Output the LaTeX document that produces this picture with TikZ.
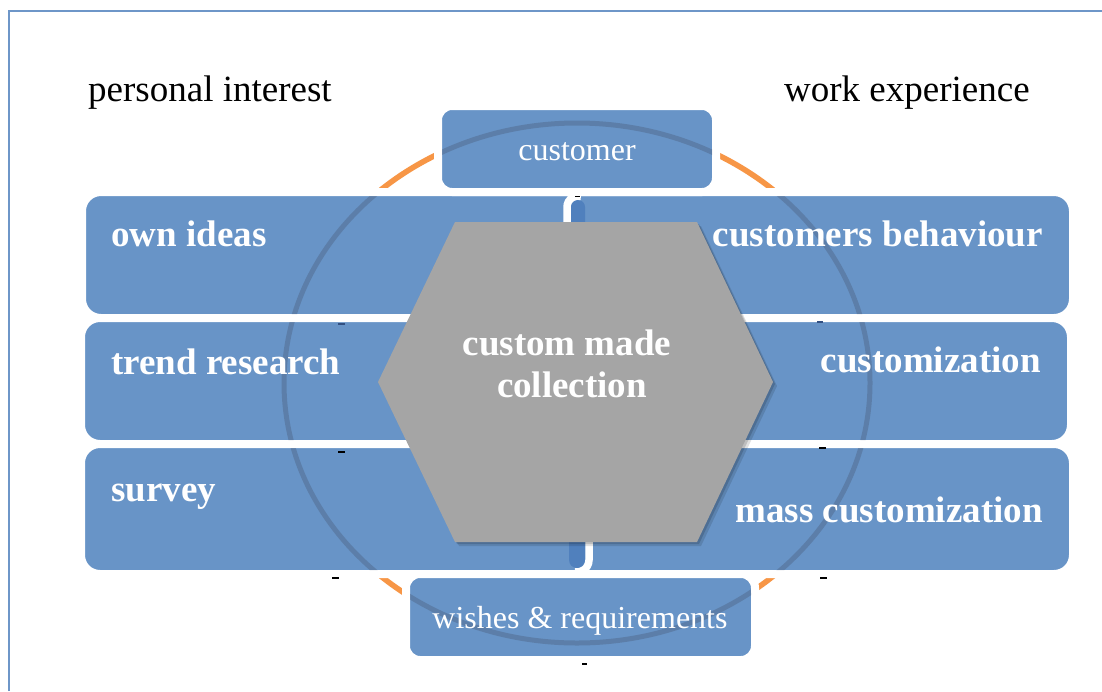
\documentclass[tikz,border=0pt]{standalone}
\usepackage{fontspec}
\setmainfont{Liberation Serif}
\definecolor{boxblue}{RGB}{104,148,199}
\definecolor{pillblue}{RGB}{80,128,189}
\definecolor{ringorange}{RGB}{247,150,70}
\definecolor{ringshadecol}{RGB}{75,95,125}
\definecolor{hexgray}{RGB}{165,165,165}
\definecolor{frameblue}{RGB}{110,150,200}
\definecolor{markblue}{RGB}{50,80,130}
\begin{document}
\begin{tikzpicture}[x=1pt,y=-1pt,
  panel/.style={draw=white, line width=8pt, fill=boxblue, inner sep=0pt, outer sep=0pt},
  rowpanel/.style={panel, rounded corners=19pt},
  tabpanel/.style={panel, rounded corners=14pt},
  ring/.style={draw=ringorange, line width=5.5pt},
  ringshade/.style={draw=ringshadecol, line width=5pt, opacity=0.4},
  headtext/.style={font=\fontsize{37}{42}\selectfont, text=black, inner sep=0pt},
  rowtext/.style={font=\fontsize{37}{42}\selectfont\bfseries, text=white, inner sep=0pt},
  tabtext/.style={font=\fontsize{32}{38}\selectfont, text=white, inner sep=0pt},
  hextext/.style={font=\fontsize{37}{42}\selectfont\bfseries, text=white, inner sep=0pt, align=center},
  tick/.style={line width=1.2pt, black},
  tickblue/.style={line width=1.2pt, markblue}]
\useasboundingbox (0,0) rectangle (1102,691);
\fill[white] (0,0) rectangle (1102,691);

% page frame
\draw[frameblue, line width=2pt] (8.5,691) -- (8.5,10.5) -- (1102,10.5);

% ring behind the panels
\coordinate (ringc) at (577,383);
\draw[ring] (ringc) ellipse [x radius=293, y radius=260];

% panels
\node[rowpanel, minimum width=991pt, minimum height=126pt] (row1) at (577.5,255) {};
\node[rowpanel, minimum width=990pt, minimum height=126pt] (row2) at (576,381) {};
\node[rowpanel, minimum width=992pt, minimum height=130pt] (row3) at (577,509) {};
\node[tabpanel, minimum width=278pt, minimum height=86pt] (customer) at (577,149) {};
\node[tabpanel, minimum width=349pt, minimum height=86pt] (wishes) at (580.5,617) {};

% ring seen through the panels
\begin{scope}
  \clip[rounded corners=15pt] (86,196) rectangle (1069,314)
    (85,322) rectangle (1067,440) (85,448) rectangle (1069,570)
    (442,110) rectangle (712,188) (410,578) rectangle (751,656);
  \draw[ringshade] (ringc) ellipse [x radius=293, y radius=260];
\end{scope}

% connectors between the tabs and the hexagon
\fill[pillblue] (571,226) -- (571,207) arc[start angle=180, end angle=360, radius=7] -- (585,226) -- cycle;
\draw[white, line width=7.5pt] (567,226) -- (567,207) arc[start angle=180, end angle=285, radius=11];
\fill[pillblue] (569,536) -- (569,560) arc[start angle=180, end angle=0, radius=8] -- (585,536) -- cycle;
\draw[white, line width=7.5pt] (589,536) -- (589,560) arc[start angle=0, end angle=100, radius=12];

% central hexagon with its shadow
\def\hexpath{(455,222) -- (697,222) -- (773,382) -- (697,542) -- (455,542) -- (378,382) -- cycle}
\begin{scope}[shift={(4,4)}]
  \fill[black, opacity=0.12] \hexpath;
\end{scope}
\begin{scope}[shift={(2,2)}]
  \fill[black, opacity=0.15] \hexpath;
\end{scope}
\fill[hexgray] \hexpath;
\node[hextext] (centre) at (572,364) {custom made\kern10pt\\collection};

% labels
\node[headtext, anchor=base west] (personal) at (88,101) {personal interest};
\node[headtext, anchor=base west] (work) at (784,101) {work experience};
\node[tabtext, anchor=base] (customerlabel) at (577,160) {customer};
\node[tabtext, anchor=base] (wisheslabel) at (580,628) {wishes \& requirements};
\node[rowtext, anchor=base west] (own) at (111,246) {own ideas};
\node[rowtext, anchor=base west] (trend) at (111,374) {trend research};
\node[rowtext, anchor=base west] (survey) at (111,501) {survey};
\node[rowtext, anchor=base east] (behaviour) at (1043,246) {customers behaviour};
\node[rowtext, anchor=base east] (customization) at (1041,372) {customization};
\node[rowtext, anchor=base east] (mass) at (1043,522) {mass customization};

% small paragraph marks
\draw[tick] (575,196.5) -- (580,196.5);
\draw[tickblue] (338,324) -- (345,324);
\draw[tick] (338,452) -- (345,452);
\draw[tickblue] (817,322) -- (823,322);
\draw[tick] (819,448) -- (826,448);
\draw[tick] (332,578) -- (339,578);
\draw[tick] (820,578) -- (827,578);
\draw[tick] (582,664) -- (587,664);
\end{tikzpicture}
\end{document}
